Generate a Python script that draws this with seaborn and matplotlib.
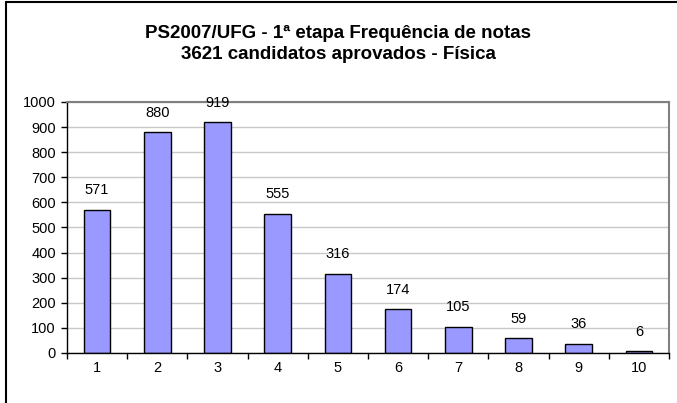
import numpy as np
import pandas as pd
import matplotlib
matplotlib.use("Agg")
import matplotlib.pyplot as plt
from matplotlib.lines import Line2D
import seaborn as sns

# Data
notas = ["1", "2", "3", "4", "5", "6", "7", "8", "9", "10"]
frequencia = [571, 880, 919, 555, 316, 174, 105, 59, 36, 6]
titulo = "PS2007/UFG - 1ª etapa Frequência de notas\n3621 candidatos aprovados - Física"

df = pd.DataFrame({"nota": notas, "freq": frequencia})

sns.set_theme(style="white")
plt.rcParams['font.family'] = ['Liberation Sans', 'DejaVu Sans']
plt.rcParams['text.color'] = 'black'
plt.rcParams['xtick.color'] = 'black'
plt.rcParams['ytick.color'] = 'black'

fig = plt.figure(figsize=(6.77, 4.03), dpi=100)
ax = fig.add_axes([67/677, 1-353/403, (669-67)/677, (353-102)/403])

sns.barplot(data=df, x="nota", y="freq", color="#9999FF", edgecolor="black",
            linewidth=1, width=0.44, saturation=1, ax=ax)

# value labels above bars
for i, v in enumerate(frequencia):
    ax.annotate(str(v), xy=(i, v), xytext=(0, 9), textcoords="offset points",
                ha="center", va="bottom", fontsize=10.5, color="black")

ax.set_xlim(-0.5, len(notas) - 0.5)
ax.set_ylim(0, 1000)
ax.set_yticks(np.arange(0, 1001, 100))
ax.set_xlabel("")
ax.set_ylabel("")

# gridlines like Excel
ax.yaxis.grid(True, color="#C8C8C8", linewidth=1)
ax.set_axisbelow(True)

# category boundary ticks
ax.set_xticks(np.arange(-0.5, len(notas), 1), minor=True)
ax.tick_params(axis="x", which="major", length=0, pad=6, labelsize=10.5)
ax.tick_params(axis="x", which="minor", length=4, width=1, direction="out", color="black")
ax.tick_params(axis="y", which="major", length=4, width=1, direction="out", color="black",
               pad=4, labelsize=10.5, left=True)
ax.tick_params(axis="x", which="both", bottom=True)

for s in ["left", "bottom"]:
    ax.spines[s].set_color("black")
    ax.spines[s].set_linewidth(1)
for s in ["top", "right"]:
    ax.spines[s].set_visible(True)
    ax.spines[s].set_color("#808080")
    ax.spines[s].set_linewidth(1.5)

fig.text(338/677, 1-44/403, titulo, ha="center", va="center", fontsize=13.5,
         fontweight="bold", linespacing=1.3, color="black")

# chart frame (only left and top edges visible in the crop)
fig.add_artist(Line2D([6/677, 6/677], [0, 1-2/403], transform=fig.transFigure,
                      color="black", linewidth=1.5))
fig.add_artist(Line2D([6/677, 1], [1-2/403, 1-2/403], transform=fig.transFigure,
                      color="black", linewidth=1.5))

fig.savefig("out.png", dpi=100, facecolor="white")
